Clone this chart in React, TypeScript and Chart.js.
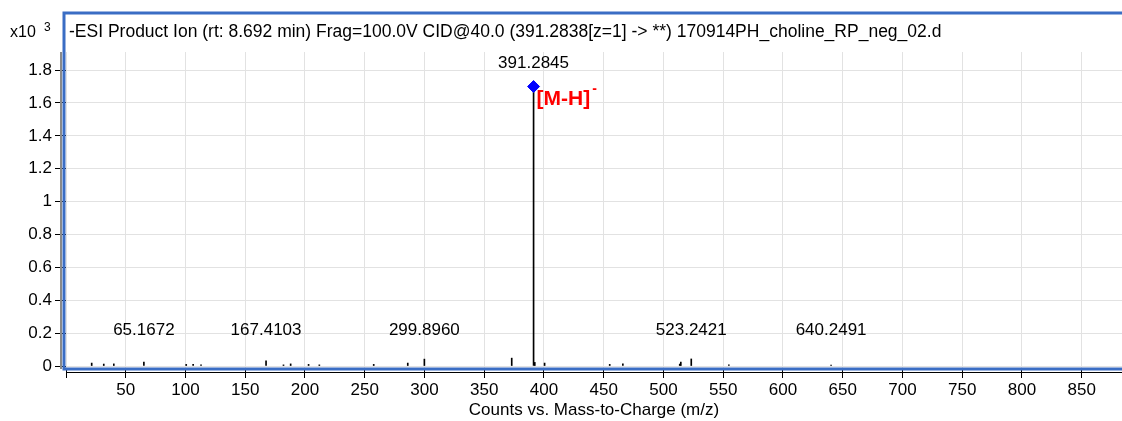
import React, { useEffect, useRef } from 'react';
import { Chart, registerables } from 'chart.js';

Chart.register(...registerables);

// ---- data (intensities in counts x10^3) ----
const mzValues = [
  21.5, 31.6, 40.0, 65.1672, 100.6, 106.4, 113.0, 167.4103, 182.0, 188.0,
  203.0, 212.0, 257.5, 286.0, 299.896, 373.0, 391.2845, 392.3, 400.5, 455.0,
  466.0, 513.6, 514.5, 523.2421, 554.7, 640.2491,
];
const intensities = [
  0.018, 0.012, 0.013, 0.024, 0.010, 0.010, 0.008, 0.031, 0.007, 0.013,
  0.010, 0.007, 0.010, 0.018, 0.042, 0.048, 1.70, 0.022, 0.018, 0.010,
  0.014, 0.012, 0.024, 0.043, 0.008, 0.006,
];
const labelledMz = [65.1672, 167.4103, 299.896, 523.2421, 640.2491];
const basePeakMz = 391.2845;
const basePeakIntensity = 1.70;
const basePeakIon = '[M-H]';
const xTickValues = [50, 100, 150, 200, 250, 300, 350, 400, 450, 500, 550, 600, 650, 700, 750, 800, 850];
const yTickValues = [0, 0.2, 0.4, 0.6, 0.8, 1, 1.2, 1.4, 1.6, 1.8];
const titleText =
  '-ESI Product Ion (rt: 8.692 min) Frag=100.0V CID@40.0 (391.2838[z=1] -> **) 170914PH_choline_RP_neg_02.d';
const xAxisTitle = 'Counts vs. Mass-to-Charge (m/z)';
const yScaleLabel = 'x10';
const yScaleExponent = '3';

const FONT = '"Liberation Sans", Arial, sans-serif';
const BLUE = '#3a6dc4';

const overlayPlugin = {
  id: 'overlay',
  afterDraw(chart: any) {
    const { ctx, scales, chartArea } = chart;
    const xs = scales.x;
    const ys = scales.y;
    ctx.save();
    // grey y axis line
    ctx.fillStyle = '#8a8a8a';
    ctx.fillRect(chartArea.left - 6, chartArea.top, 2, chartArea.bottom - chartArea.top + 1);
    // black x axis line
    ctx.fillStyle = '#000';
    ctx.fillRect(chartArea.left, chartArea.bottom + 4, chartArea.right - chartArea.left, 1);
    // blue frame
    ctx.strokeStyle = BLUE;
    ctx.lineWidth = 3;
    ctx.beginPath();
    ctx.moveTo(chart.width + 5, 13);
    ctx.lineTo(chartArea.left - 2, 13);
    ctx.lineTo(chartArea.left - 2, chartArea.bottom + 1);
    ctx.lineTo(chart.width + 5, chartArea.bottom + 1);
    ctx.stroke();

    // title
    ctx.fillStyle = '#000';
    ctx.textBaseline = 'middle';
    ctx.textAlign = 'left';
    ctx.font = `17.5px ${FONT}`;
    ctx.fillText(titleText, chartArea.left + 3, 32);
    ctx.font = `16px ${FONT}`;
    ctx.fillText(yScaleLabel, 10, 33);
    ctx.font = `12px ${FONT}`;
    ctx.fillText(yScaleExponent, 44, 28);

    // peak labels
    ctx.font = `17px ${FONT}`;
    ctx.textAlign = 'center';
    labelledMz.forEach((mz) => {
      ctx.fillText(mz.toFixed(4), xs.getPixelForValue(mz), ys.getPixelForValue(0.215));
    });
    const bx = xs.getPixelForValue(basePeakMz);
    const by = ys.getPixelForValue(basePeakIntensity);
    ctx.fillText(basePeakMz.toFixed(4), bx, by - 23);

    // ion annotation
    ctx.fillStyle = '#ff0000';
    ctx.textAlign = 'left';
    ctx.textBaseline = 'alphabetic';
    ctx.font = `bold 21px ${FONT}`;
    ctx.fillText(basePeakIon, bx + 3, by + 18);
    const w = ctx.measureText(basePeakIon).width;
    ctx.font = `bold 14px ${FONT}`;
    ctx.fillText('-', bx + 5 + w, by + 6);
    ctx.restore();
  },
};

const zeroPadding = (s: any) => {
  s.paddingLeft = 0;
  s.paddingRight = 0;
  s.paddingTop = 0;
  s.paddingBottom = 0;
};

export default function App() {
  const canvasRef = useRef<HTMLCanvasElement | null>(null);

  useEffect(() => {
    const canvas = canvasRef.current;
    if (!canvas) return;
    const chart = new Chart(canvas, {
      type: 'bar',
      data: {
        datasets: [
          {
            type: 'scatter',
            data: [{ x: basePeakMz, y: basePeakIntensity }],
            pointStyle: 'rectRot',
            pointRadius: 6,
            backgroundColor: '#0000ff',
            borderColor: '#0000ff',
            borderWidth: 1,
            order: 0,
          } as any,
          {
            type: 'bar',
            data: mzValues.map((x, i) => ({ x, y: intensities[i] })),
            backgroundColor: '#000',
            borderWidth: 0,
            barThickness: 1,
            grouped: false,
            order: 1,
          } as any,
        ],
      },
      options: {
        animation: false,
        responsive: false,
        maintainAspectRatio: false,
        layout: { autoPadding: false, padding: { top: 52, left: 0, right: 0, bottom: 0 } },
        plugins: {
          legend: { display: false },
          tooltip: { enabled: false },
          title: { display: false },
        },
        scales: {
          x: {
            type: 'linear',
            min: 0,
            max: 883.7,
            offset: false,
            grid: { color: '#e2e2e2', lineWidth: 1, tickColor: '#000', tickLength: 10, offset: false },
            border: { display: false },
            afterBuildTicks: (s: any) => {
              s.ticks = [0, ...xTickValues].map((v) => ({ value: v }));
            },
            ticks: {
              autoSkip: false,
              maxRotation: 0,
              color: '#000',
              padding: 2,
              font: { family: FONT, size: 17 },
              callback: (v: any) => (v === 0 ? '' : String(v)),
            },
            title: {
              display: true,
              text: xAxisTitle,
              color: '#000',
              font: { family: FONT, size: 17 },
              padding: { top: 0, bottom: 0 },
            },
            afterFit: (s: any) => {
              s.height = 53;
              zeroPadding(s);
            },
          } as any,
          y: {
            type: 'linear',
            min: -0.012,
            max: 1.91,
            grid: { color: '#e2e2e2', lineWidth: 1, tickColor: '#000', tickLength: 11 },
            border: { display: false },
            afterBuildTicks: (s: any) => {
              s.ticks = yTickValues.map((v) => ({ value: v }));
            },
            ticks: {
              color: '#000',
              padding: 3,
              font: { family: FONT, size: 17 },
              callback: (v: any) => String(parseFloat(Number(v).toFixed(1))),
            },
            afterFit: (s: any) => {
              s.width = 66;
              zeroPadding(s);
            },
          } as any,
        },
      },
      plugins: [overlayPlugin],
    });
    return () => chart.destroy();
  }, []);

  return (
    <div style={{ position: 'absolute', left: 0, top: 0, width: 1122, height: 421, background: '#fff' }}>
      <canvas ref={canvasRef} width={1122} height={421} style={{ display: 'block' }} />
    </div>
  );
}
